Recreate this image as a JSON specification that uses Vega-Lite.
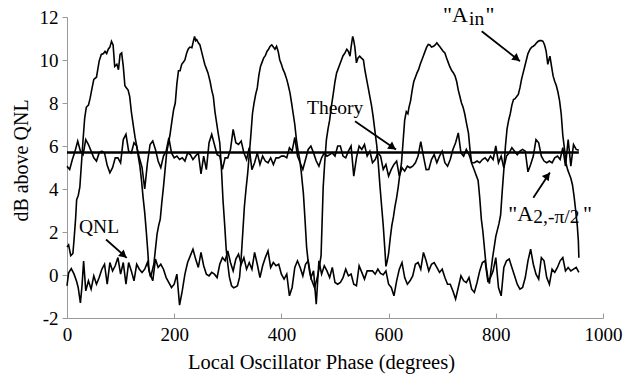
{
  "$schema": "https://vega.github.io/schema/vega-lite/v6.json",
  "width": 536,
  "height": 301,
  "autosize": {"type": "none"},
  "padding": {"left": 67, "top": 17, "right": 41, "bottom": 66},
  "background": "white",
  "config": {
    "view": {"stroke": null},
    "font": "Liberation Serif",
    "text": {"font": "Liberation Serif"},
    "axis": {"labelFont": "Liberation Serif", "titleFont": "Liberation Serif", "labelColor": "black", "titleColor": "black", "titleFontWeight": "normal", "domainColor": "#999999", "tickColor": "#999999", "grid": false}
  },
  "datasets": {
    "ain": [{"x":0,"y":1.3},{"x":3,"y":1.4},{"x":7,"y":0.9},{"x":11,"y":1.0},{"x":13,"y":1.6},{"x":16,"y":2.6},{"x":18,"y":3.5},{"x":21,"y":3.7},{"x":24,"y":4.1},{"x":27,"y":5.2},{"x":30,"y":6.3},{"x":33,"y":7.3},{"x":36,"y":7.8},{"x":40,"y":7.9},{"x":43,"y":8.2},{"x":46,"y":8.6},{"x":50,"y":9.1},{"x":55,"y":9.2},{"x":60,"y":9.95},{"x":64,"y":10.26},{"x":68,"y":10.3},{"x":71,"y":10.4},{"x":74,"y":10.3},{"x":77,"y":10.5},{"x":80,"y":10.6},{"x":83,"y":10.87},{"x":86,"y":10.7},{"x":89,"y":9.7},{"x":93,"y":9.8},{"x":96,"y":9.55},{"x":99,"y":10.26},{"x":102,"y":10.33},{"x":105,"y":9.7},{"x":108,"y":8.8},{"x":111,"y":8.7},{"x":114,"y":8.6},{"x":117,"y":8.3},{"x":120,"y":7.6},{"x":124,"y":6.9},{"x":127,"y":6.4},{"x":130,"y":6.0},{"x":133,"y":5.5},{"x":136,"y":5.06},{"x":139,"y":4.4},{"x":142,"y":3.6},{"x":145,"y":2.9},{"x":148,"y":2.0},{"x":151,"y":1.0},{"x":153,"y":0.2},{"x":156,"y":-0.1},{"x":159,"y":0.2},{"x":162,"y":0.5},{"x":165,"y":1.2},{"x":168,"y":1.9},{"x":171,"y":2.3},{"x":174,"y":2.6},{"x":177,"y":3.4},{"x":180,"y":4.1},{"x":183,"y":4.9},{"x":186,"y":5.7},{"x":189,"y":6.1},{"x":192,"y":6.5},{"x":196,"y":7.2},{"x":199,"y":7.7},{"x":202,"y":8.0},{"x":205,"y":8.9},{"x":208,"y":9.5},{"x":211,"y":9.5},{"x":214,"y":9.8},{"x":217,"y":9.9},{"x":220,"y":10.0},{"x":223,"y":10.3},{"x":226,"y":10.5},{"x":229,"y":10.6},{"x":233,"y":10.57},{"x":236,"y":10.9},{"x":238,"y":11.1},{"x":240,"y":10.9},{"x":242,"y":10.95},{"x":245,"y":10.8},{"x":248,"y":10.7},{"x":251,"y":10.4},{"x":254,"y":10.1},{"x":257,"y":9.8},{"x":260,"y":9.6},{"x":263,"y":9.4},{"x":267,"y":9.0},{"x":270,"y":8.6},{"x":273,"y":8.3},{"x":276,"y":7.6},{"x":279,"y":7.1},{"x":282,"y":6.6},{"x":285,"y":6.15},{"x":288,"y":5.0},{"x":291,"y":3.5},{"x":294,"y":2.4},{"x":297,"y":1.2},{"x":300,"y":0.5},{"x":303,"y":-0.1},{"x":307,"y":-0.5},{"x":311,"y":-0.6},{"x":315,"y":-0.55},{"x":318,"y":-0.5},{"x":322,"y":-0.1},{"x":325,"y":0.8},{"x":328,"y":2.0},{"x":331,"y":3.2},{"x":334,"y":4.0},{"x":337,"y":4.7},{"x":340,"y":5.6},{"x":343,"y":6.5},{"x":346,"y":7.5},{"x":349,"y":8.0},{"x":352,"y":8.4},{"x":355,"y":8.7},{"x":358,"y":9.3},{"x":361,"y":9.7},{"x":364,"y":9.9},{"x":367,"y":10.1},{"x":370,"y":10.2},{"x":373,"y":10.4},{"x":376,"y":10.5},{"x":379,"y":10.64},{"x":382,"y":10.7},{"x":385,"y":10.6},{"x":388,"y":10.5},{"x":391,"y":10.64},{"x":394,"y":10.4},{"x":397,"y":10.0},{"x":400,"y":9.8},{"x":403,"y":9.56},{"x":406,"y":9.4},{"x":410,"y":9.1},{"x":413,"y":8.8},{"x":416,"y":8.47},{"x":419,"y":8.0},{"x":422,"y":7.5},{"x":425,"y":7.0},{"x":428,"y":6.3},{"x":431,"y":5.8},{"x":434,"y":5.4},{"x":437,"y":4.8},{"x":441,"y":3.8},{"x":444,"y":2.6},{"x":447,"y":1.3},{"x":450,"y":0.6},{"x":453,"y":0.1},{"x":456,"y":-0.2},{"x":459,"y":-0.4},{"x":462,"y":-0.6},{"x":465,"y":-0.3},{"x":468,"y":0.0},{"x":471,"y":0.4},{"x":474,"y":0.9},{"x":476,"y":2.5},{"x":478,"y":4.1},{"x":481,"y":5.3},{"x":484,"y":6.3},{"x":487,"y":6.8},{"x":490,"y":7.2},{"x":493,"y":7.8},{"x":497,"y":8.47},{"x":500,"y":9.0},{"x":503,"y":9.4},{"x":506,"y":9.6},{"x":509,"y":9.8},{"x":512,"y":10.0},{"x":515,"y":10.2},{"x":518,"y":10.3},{"x":522,"y":10.5},{"x":525,"y":10.4},{"x":528,"y":10.18},{"x":530,"y":10.6},{"x":533,"y":11.1},{"x":535,"y":10.9},{"x":537,"y":10.6},{"x":540,"y":9.87},{"x":543,"y":10.1},{"x":546,"y":10.18},{"x":549,"y":10.1},{"x":553,"y":10.0},{"x":556,"y":9.5},{"x":559,"y":9.1},{"x":562,"y":8.7},{"x":565,"y":8.3},{"x":568,"y":7.9},{"x":571,"y":7.4},{"x":574,"y":6.8},{"x":578,"y":6.0},{"x":581,"y":5.1},{"x":584,"y":4.1},{"x":587,"y":3.2},{"x":590,"y":2.3},{"x":593,"y":1.2},{"x":595,"y":0.4},{"x":597,"y":0.6},{"x":600,"y":1.0},{"x":603,"y":1.7},{"x":606,"y":2.3},{"x":609,"y":2.7},{"x":612,"y":3.2},{"x":615,"y":3.6},{"x":618,"y":4.1},{"x":621,"y":4.7},{"x":624,"y":5.2},{"x":627,"y":6.2},{"x":630,"y":7.2},{"x":633,"y":7.6},{"x":636,"y":7.5},{"x":638,"y":7.8},{"x":641,"y":8.1},{"x":644,"y":8.6},{"x":647,"y":9.0},{"x":650,"y":9.2},{"x":653,"y":9.4},{"x":656,"y":9.56},{"x":659,"y":9.8},{"x":662,"y":10.0},{"x":665,"y":10.2},{"x":668,"y":10.4},{"x":671,"y":10.6},{"x":674,"y":10.72},{"x":677,"y":10.7},{"x":680,"y":10.6},{"x":684,"y":10.64},{"x":687,"y":10.7},{"x":690,"y":10.8},{"x":693,"y":10.7},{"x":696,"y":10.6},{"x":699,"y":10.5},{"x":702,"y":10.4},{"x":705,"y":10.33},{"x":708,"y":10.1},{"x":711,"y":9.9},{"x":714,"y":9.7},{"x":718,"y":9.5},{"x":721,"y":9.4},{"x":724,"y":9.25},{"x":727,"y":9.0},{"x":730,"y":8.6},{"x":733,"y":8.3},{"x":736,"y":8.0},{"x":739,"y":7.8},{"x":742,"y":7.5},{"x":745,"y":7.1},{"x":749,"y":6.6},{"x":752,"y":5.8},{"x":755,"y":5.2},{"x":758,"y":5.0},{"x":761,"y":4.8},{"x":764,"y":4.6},{"x":767,"y":4.4},{"x":770,"y":3.6},{"x":773,"y":2.6},{"x":776,"y":2.0},{"x":779,"y":1.2},{"x":782,"y":0.4},{"x":785,"y":-0.1},{"x":788,"y":-0.4},{"x":791,"y":0.2},{"x":794,"y":0.8},{"x":797,"y":1.3},{"x":800,"y":1.8},{"x":803,"y":2.1},{"x":806,"y":2.4},{"x":809,"y":2.8},{"x":812,"y":3.9},{"x":815,"y":4.9},{"x":818,"y":6.0},{"x":821,"y":6.8},{"x":824,"y":7.2},{"x":827,"y":7.5},{"x":830,"y":7.9},{"x":833,"y":8.16},{"x":836,"y":8.2},{"x":839,"y":8.3},{"x":842,"y":8.4},{"x":845,"y":8.7},{"x":848,"y":9.1},{"x":851,"y":9.4},{"x":854,"y":9.7},{"x":857,"y":10.0},{"x":860,"y":10.3},{"x":864,"y":10.5},{"x":867,"y":10.6},{"x":870,"y":10.64},{"x":873,"y":10.7},{"x":876,"y":10.8},{"x":879,"y":10.87},{"x":882,"y":10.9},{"x":885,"y":10.9},{"x":888,"y":10.87},{"x":891,"y":10.7},{"x":894,"y":10.4},{"x":897,"y":9.8},{"x":899,"y":10.0},{"x":901,"y":10.18},{"x":904,"y":9.7},{"x":907,"y":9.25},{"x":910,"y":9.0},{"x":913,"y":8.8},{"x":916,"y":8.5},{"x":919,"y":8.1},{"x":922,"y":7.5},{"x":925,"y":6.5},{"x":928,"y":5.9},{"x":931,"y":5.2},{"x":934,"y":4.9},{"x":937,"y":4.7},{"x":940,"y":4.5},{"x":943,"y":4.2},{"x":946,"y":3.67},{"x":949,"y":3.0},{"x":952,"y":2.3},{"x":954,"y":1.6},{"x":955,"y":0.8}],
    "a2": [{"x":0,"y":5.06},{"x":5,"y":4.91},{"x":10,"y":5.37},{"x":15,"y":5.76},{"x":20,"y":6.23},{"x":25,"y":5.76},{"x":30,"y":5.6},{"x":35,"y":6.3},{"x":40,"y":6.07},{"x":45,"y":5.76},{"x":50,"y":5.45},{"x":55,"y":5.3},{"x":60,"y":5.68},{"x":65,"y":5.76},{"x":70,"y":5.68},{"x":75,"y":5.1},{"x":80,"y":4.75},{"x":85,"y":4.99},{"x":90,"y":5.45},{"x":95,"y":5.45},{"x":100,"y":5.22},{"x":105,"y":6.3},{"x":110,"y":6.54},{"x":115,"y":5.76},{"x":120,"y":5.68},{"x":125,"y":6.15},{"x":130,"y":6.0},{"x":135,"y":5.45},{"x":140,"y":5.0},{"x":145,"y":4.0},{"x":150,"y":5.2},{"x":155,"y":6.07},{"x":160,"y":6.23},{"x":165,"y":5.84},{"x":170,"y":5.3},{"x":175,"y":4.99},{"x":180,"y":5.53},{"x":185,"y":5.76},{"x":190,"y":6.38},{"x":195,"y":5.68},{"x":200,"y":5.45},{"x":205,"y":5.53},{"x":210,"y":5.37},{"x":215,"y":5.45},{"x":220,"y":5.3},{"x":225,"y":5.68},{"x":230,"y":5.6},{"x":235,"y":5.37},{"x":240,"y":5.53},{"x":245,"y":5.68},{"x":250,"y":4.7},{"x":255,"y":5.53},{"x":260,"y":4.9},{"x":265,"y":6.15},{"x":270,"y":6.54},{"x":275,"y":6.07},{"x":280,"y":5.6},{"x":285,"y":5.53},{"x":290,"y":4.91},{"x":295,"y":5.45},{"x":300,"y":5.45},{"x":305,"y":5.84},{"x":310,"y":6.77},{"x":315,"y":6.15},{"x":320,"y":6.07},{"x":325,"y":6.23},{"x":330,"y":5.68},{"x":335,"y":5.37},{"x":340,"y":5.92},{"x":345,"y":4.9},{"x":350,"y":5.22},{"x":355,"y":5.68},{"x":360,"y":5.14},{"x":365,"y":5.53},{"x":370,"y":5.3},{"x":375,"y":5.22},{"x":380,"y":5.45},{"x":385,"y":5.14},{"x":390,"y":5.45},{"x":395,"y":5.45},{"x":400,"y":5.53},{"x":405,"y":5.53},{"x":410,"y":5.45},{"x":415,"y":5.92},{"x":420,"y":5.76},{"x":425,"y":6.4},{"x":430,"y":5.53},{"x":435,"y":5.22},{"x":440,"y":4.91},{"x":445,"y":5.37},{"x":450,"y":5.84},{"x":455,"y":6.0},{"x":460,"y":5.68},{"x":465,"y":5.3},{"x":470,"y":5.06},{"x":475,"y":5.45},{"x":480,"y":5.68},{"x":485,"y":5.53},{"x":490,"y":5.6},{"x":495,"y":5.68},{"x":500,"y":5.53},{"x":505,"y":6.0},{"x":510,"y":6.0},{"x":515,"y":5.53},{"x":520,"y":5.45},{"x":525,"y":5.76},{"x":530,"y":6.0},{"x":535,"y":4.6},{"x":540,"y":5.45},{"x":545,"y":6.0},{"x":550,"y":5.84},{"x":555,"y":6.07},{"x":560,"y":5.53},{"x":565,"y":5.76},{"x":570,"y":5.22},{"x":575,"y":5.37},{"x":580,"y":5.68},{"x":585,"y":5.53},{"x":590,"y":4.91},{"x":595,"y":5.14},{"x":600,"y":4.6},{"x":605,"y":4.91},{"x":610,"y":5.14},{"x":615,"y":5.3},{"x":620,"y":4.6},{"x":625,"y":4.99},{"x":630,"y":4.83},{"x":635,"y":5.06},{"x":640,"y":4.99},{"x":645,"y":5.06},{"x":650,"y":5.22},{"x":655,"y":5.53},{"x":660,"y":6.2},{"x":665,"y":5.53},{"x":670,"y":4.9},{"x":675,"y":4.91},{"x":680,"y":5.37},{"x":685,"y":5.6},{"x":690,"y":5.22},{"x":695,"y":5.53},{"x":700,"y":5.76},{"x":705,"y":5.22},{"x":710,"y":5.06},{"x":715,"y":5.37},{"x":720,"y":5.84},{"x":725,"y":6.15},{"x":730,"y":6.61},{"x":735,"y":5.68},{"x":740,"y":5.53},{"x":745,"y":5.84},{"x":750,"y":5.6},{"x":755,"y":5.22},{"x":760,"y":5.22},{"x":765,"y":5.3},{"x":770,"y":5.22},{"x":775,"y":5.37},{"x":780,"y":5.45},{"x":785,"y":5.3},{"x":790,"y":5.53},{"x":795,"y":5.37},{"x":800,"y":6.0},{"x":805,"y":5.22},{"x":810,"y":5.53},{"x":815,"y":4.99},{"x":820,"y":5.53},{"x":825,"y":5.68},{"x":830,"y":5.92},{"x":835,"y":5.76},{"x":840,"y":5.6},{"x":845,"y":5.76},{"x":850,"y":5.84},{"x":855,"y":5.76},{"x":860,"y":4.8},{"x":865,"y":5.14},{"x":870,"y":5.53},{"x":875,"y":6.3},{"x":880,"y":6.15},{"x":885,"y":5.53},{"x":890,"y":5.3},{"x":895,"y":5.22},{"x":900,"y":5.3},{"x":905,"y":5.22},{"x":910,"y":5.45},{"x":915,"y":5.53},{"x":920,"y":5.37},{"x":925,"y":5.92},{"x":930,"y":5.06},{"x":935,"y":6.3},{"x":940,"y":5.06},{"x":945,"y":6.07},{"x":950,"y":5.84},{"x":955,"y":5.8}],
    "qnl": [{"x":0,"y":-0.5},{"x":3,"y":0.1},{"x":8,"y":0.3},{"x":13,"y":0.05},{"x":18,"y":-0.3},{"x":21,"y":-0.6},{"x":25,"y":-1.3},{"x":28,"y":-0.5},{"x":31,"y":0.65},{"x":35,"y":-0.74},{"x":40,"y":-0.27},{"x":45,"y":-0.66},{"x":50,"y":-0.04},{"x":55,"y":-0.43},{"x":60,"y":-0.12},{"x":65,"y":0.27},{"x":70,"y":0.5},{"x":75,"y":-0.43},{"x":80,"y":0.58},{"x":85,"y":0.19},{"x":90,"y":0.43},{"x":95,"y":0.81},{"x":100,"y":0.04},{"x":105,"y":0.58},{"x":110,"y":-0.43},{"x":115,"y":0.58},{"x":120,"y":0.19},{"x":125,"y":-0.27},{"x":130,"y":0.5},{"x":135,"y":0.27},{"x":140,"y":0.12},{"x":145,"y":0.27},{"x":150,"y":0.58},{"x":155,"y":0.04},{"x":160,"y":-0.27},{"x":165,"y":0.74},{"x":170,"y":0.35},{"x":175,"y":0.5},{"x":180,"y":0.27},{"x":185,"y":-0.12},{"x":190,"y":-0.35},{"x":195,"y":-0.58},{"x":200,"y":-0.43},{"x":205,"y":0.04},{"x":210,"y":-1.4},{"x":215,"y":-0.74},{"x":220,"y":0.04},{"x":225,"y":0.58},{"x":230,"y":0.89},{"x":235,"y":1.2},{"x":240,"y":0.74},{"x":245,"y":0.35},{"x":250,"y":1.05},{"x":255,"y":0.43},{"x":260,"y":0.04},{"x":265,"y":-0.04},{"x":270,"y":0.12},{"x":275,"y":0.04},{"x":280,"y":-0.12},{"x":285,"y":0.5},{"x":290,"y":0.81},{"x":295,"y":0.66},{"x":300,"y":1.12},{"x":305,"y":0.58},{"x":310,"y":0.19},{"x":315,"y":0.74},{"x":320,"y":0.97},{"x":325,"y":0.5},{"x":330,"y":0.81},{"x":335,"y":0.27},{"x":340,"y":0.58},{"x":345,"y":0.27},{"x":350,"y":1.05},{"x":355,"y":0.5},{"x":360,"y":-0.12},{"x":365,"y":0.43},{"x":370,"y":0.81},{"x":375,"y":1.12},{"x":380,"y":0.35},{"x":385,"y":0.58},{"x":390,"y":0.43},{"x":395,"y":0.5},{"x":400,"y":0.04},{"x":405,"y":-0.19},{"x":410,"y":0.04},{"x":415,"y":-0.97},{"x":420,"y":-0.58},{"x":425,"y":0.35},{"x":430,"y":0.66},{"x":435,"y":0.35},{"x":440,"y":-0.04},{"x":445,"y":0.5},{"x":450,"y":0.66},{"x":455,"y":-0.12},{"x":460,"y":0.19},{"x":465,"y":-1.36},{"x":470,"y":0.66},{"x":475,"y":0.04},{"x":480,"y":0.43},{"x":485,"y":0.19},{"x":490,"y":-0.12},{"x":495,"y":0.35},{"x":500,"y":-0.35},{"x":505,"y":-0.43},{"x":510,"y":-0.35},{"x":515,"y":-0.12},{"x":520,"y":0.27},{"x":525,"y":-0.04},{"x":530,"y":0.04},{"x":535,"y":-0.43},{"x":540,"y":-0.5},{"x":545,"y":0.43},{"x":550,"y":0.12},{"x":555,"y":-0.19},{"x":560,"y":0.19},{"x":565,"y":0.19},{"x":570,"y":0.19},{"x":575,"y":0.04},{"x":580,"y":0.27},{"x":585,"y":0.07},{"x":590,"y":0.01},{"x":595,"y":0.19},{"x":600,"y":-0.43},{"x":605,"y":-0.58},{"x":610,"y":-0.97},{"x":615,"y":-0.27},{"x":620,"y":0.27},{"x":625,"y":0.58},{"x":630,"y":-0.12},{"x":635,"y":-0.43},{"x":640,"y":-0.27},{"x":645,"y":-0.04},{"x":650,"y":0.5},{"x":655,"y":0.58},{"x":660,"y":0.27},{"x":665,"y":1.05},{"x":670,"y":0.66},{"x":675,"y":0.19},{"x":680,"y":0.5},{"x":685,"y":0.58},{"x":690,"y":0.35},{"x":695,"y":0.12},{"x":700,"y":0.27},{"x":705,"y":-0.12},{"x":710,"y":-0.43},{"x":715,"y":-0.43},{"x":720,"y":-0.74},{"x":725,"y":-1.12},{"x":730,"y":-0.58},{"x":735,"y":-0.04},{"x":740,"y":-0.27},{"x":745,"y":-0.35},{"x":750,"y":-0.12},{"x":755,"y":-0.66},{"x":760,"y":-0.81},{"x":765,"y":-0.35},{"x":770,"y":0.19},{"x":775,"y":0.58},{"x":780,"y":0.66},{"x":785,"y":-0.27},{"x":790,"y":-0.12},{"x":795,"y":0.19},{"x":800,"y":0.81},{"x":805,"y":-0.58},{"x":810,"y":-0.97},{"x":815,"y":0.35},{"x":820,"y":0.66},{"x":825,"y":0.74},{"x":830,"y":0.35},{"x":835,"y":-0.04},{"x":840,"y":-0.43},{"x":845,"y":-0.66},{"x":850,"y":-0.58},{"x":855,"y":-0.12},{"x":860,"y":0.66},{"x":865,"y":1.2},{"x":870,"y":0.5},{"x":875,"y":0.04},{"x":880,"y":-0.19},{"x":885,"y":0.81},{"x":890,"y":0.66},{"x":895,"y":-0.12},{"x":900,"y":-0.43},{"x":905,"y":0.27},{"x":910,"y":0.12},{"x":915,"y":0.35},{"x":920,"y":0.66},{"x":925,"y":0.81},{"x":930,"y":0.19},{"x":935,"y":0.35},{"x":940,"y":0.19},{"x":945,"y":0.27},{"x":950,"y":0.35},{"x":955,"y":0.12}],
    "theory": [{"x":0,"y":5.7},{"x":955,"y":5.7}],
    "arrows": [{"x":773.7,"y":11.34,"x2":845.1,"y2":9.94},{"x":537.3,"y":7.15,"x2":613.8,"y2":5.84},{"x":72.8,"y":1.65,"x2":111.4,"y2":0.8},{"x":870,"y":3.59,"x2":901,"y2":4.77}],
    "heads": [{"id":1,"x":839.3,"y":10.06},{"id":2,"x":607.6,"y":5.94},{"id":3,"x":105.8,"y":0.92},{"id":4,"x":896.6,"y":4.62}],
    "labels": [{"k":"big","x":701.5,"y":11.76,"t":"\"A"},{"k":"big","x":781,"y":11.76,"t":"\""},{"k":"mid","x":447.8,"y":7.47,"t":"Theory"},{"k":"mid","x":22.4,"y":1.96,"t":"QNL"},{"k":"big","x":823.3,"y":2.5,"t":"\"A"},{"k":"big","x":962.7,"y":2.5,"t":"\""},{"k":"sub","x":750,"y":11.63,"t":"in"},{"k":"sub","x":870,"y":2.42,"t":"2,-π/2"}]
  },
  "encoding": {
    "x": {"field": "x", "type": "quantitative", "scale": {"domain": [0, 1000], "nice": false, "zero": false},
      "axis": {"title": "Local Oscillator Phase (degrees)", "values": [0, 200, 400, 600, 800, 1000], "format": "d", "labelFontSize": 19, "titleFontSize": 20.5, "titleX": 254, "tickSize": -5, "labelPadding": 12, "titlePadding": 8, "labelFlush": false}},
    "y": {"field": "y", "type": "quantitative", "scale": {"domain": [-2, 12], "nice": false, "zero": false},
      "axis": {"title": "dB above QNL", "values": [-2, 0, 2, 4, 6, 8, 10, 12], "labelExpr": "'' + datum.value", "labelFontSize": 19, "titleFontSize": 20, "titleY": 143, "tickSize": 5, "labelPadding": 4, "titlePadding": 8}}
  },
  "layer": [
    {"data": {"name": "theory"}, "mark": {"type": "line", "color": "black", "strokeWidth": 2.6}},
    {"data": {"name": "a2"}, "mark": {"type": "line", "color": "black", "strokeWidth": 1.6}},
    {"data": {"name": "qnl"}, "mark": {"type": "line", "color": "black", "strokeWidth": 1.6}},
    {"data": {"name": "ain"}, "mark": {"type": "line", "color": "black", "strokeWidth": 1.6}},
    {"data": {"name": "arrows"}, "mark": {"type": "rule", "color": "black", "strokeWidth": 1.8}, "encoding": {"x2": {"field": "x2"}, "y2": {"field": "y2"}}},
    {"data": {"name": "heads"}, "transform": [{"filter": "datum.id == 1"}], "mark": {"type": "point", "shape": "triangle-up", "filled": true, "color": "black", "size": 75, "angle": 128, "opacity": 1}},
    {"data": {"name": "heads"}, "transform": [{"filter": "datum.id == 2"}], "mark": {"type": "point", "shape": "triangle-up", "filled": true, "color": "black", "size": 75, "angle": 125, "opacity": 1}},
    {"data": {"name": "heads"}, "transform": [{"filter": "datum.id == 3"}], "mark": {"type": "point", "shape": "triangle-up", "filled": true, "color": "black", "size": 75, "angle": 131, "opacity": 1}},
    {"data": {"name": "heads"}, "transform": [{"filter": "datum.id == 4"}], "mark": {"type": "point", "shape": "triangle-up", "filled": true, "color": "black", "size": 75, "angle": 38, "opacity": 1}},
    {"data": {"name": "labels"}, "transform": [{"filter": "datum.k == 'big'"}], "mark": {"type": "text", "fontSize": 22, "align": "left", "baseline": "alphabetic", "color": "black"}, "encoding": {"text": {"field": "t"}}},
    {"data": {"name": "labels"}, "transform": [{"filter": "datum.k == 'mid'"}], "mark": {"type": "text", "fontSize": 19.5, "align": "left", "baseline": "alphabetic", "color": "black"}, "encoding": {"text": {"field": "t"}}},
    {"data": {"name": "labels"}, "transform": [{"filter": "datum.k == 'sub'"}], "mark": {"type": "text", "fontSize": 19.5, "align": "left", "baseline": "alphabetic", "color": "black"}, "encoding": {"text": {"field": "t"}}}
  ]
}
